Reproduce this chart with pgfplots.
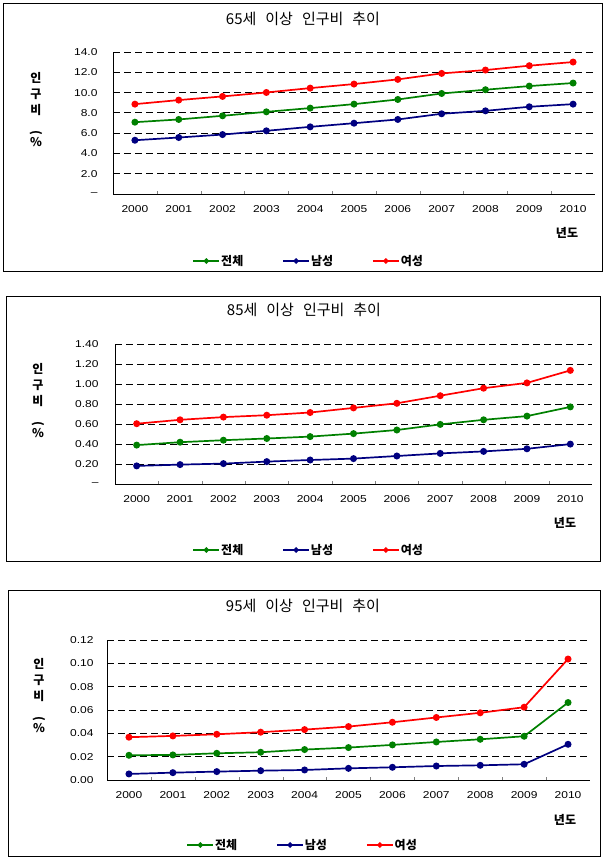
\documentclass[border=0pt]{standalone}
\usepackage{fontspec}
\setmainfont{Noto Sans CJK KR}
\newfontfamily\numfont[FakeStretch=1.2]{Liberation Sans}
\usepackage{pgfplots}
\pgfplotsset{compat=1.18}

\definecolor{cgreen}{RGB}{0,128,0}
\definecolor{cnavy}{RGB}{0,0,128}
\definecolor{cred}{RGB}{255,0,0}

\pgfplotsset{
  panel/.style={
    scale only axis,
    anchor=south west,
    clip=false,
    xmin=-0.5, xmax=10.5,
    xtick={0,...,10},
    xticklabels={2000,2001,2002,2003,2004,2005,2006,2007,2008,2009,2010},
    extra x ticks={0.5,1.5,...,9.5},
    extra x tick labels={},
    extra x tick style={major tick length=3pt, tick align=inside, grid=none},
    major tick length=0pt,
    axis x line*=bottom, axis y line*=left,
    x axis line style={-, line width=0.8pt},
    y axis line style={-, line width=0.8pt},
    ymajorgrids,
    grid style={black, line width=0.8pt, dash pattern=on 7pt off 4pt},
    tick label style={font=\numfont\fontsize{10}{12}\selectfont},
    xticklabel style={yshift=-8pt},
    every axis plot/.append style={line width=1.7pt, mark=*, mark size=2.6pt},
    legend image code/.code={\draw[mark repeat=2, mark phase=2, #1, mark size=1.8pt]
      plot coordinates {(0pt,0pt) (13pt,0pt) (26pt,0pt)};},
    legend style={draw=none, fill=none, legend columns=3, anchor=center,
      font=\bfseries\fontsize{12}{14}\selectfont,
      nodes={inner sep=1pt},
      /tikz/every even column/.append style={column sep=38pt}},
  },
}
\tikzset{
  ylab/.style={align=center, font=\bfseries\fontsize{12}{16}\selectfont},
  ttl/.style={font=\fontsize{15}{17}\selectfont},
  yr/.style={font=\bfseries\fontsize{12}{14}\selectfont},
}

\newcommand{\ylabtext}{인\\구\\비\\\rotatebox{-90}{(}\\\%}

\begin{document}
\begin{tikzpicture}
\useasboundingbox (0,0) rectangle (603pt,-859pt);

% ---------- panel 1: 65+ ----------
\draw[line width=0.9pt] (3pt,-3pt) rectangle (602pt,-271pt);
\node[ttl] at (303pt,-19pt) {65세\hspace{0.6em}이상\hspace{0.6em}인구비\hspace{0.6em}추이};
\node[ylab] at (36pt,-110pt) {\ylabtext};
\node[yr] at (567pt,-233pt) {년도};
\begin{axis}[panel,
  at={(113pt,-194pt)}, width=482pt, height=142pt,
  ymin=0, ymax=14, ytick={0,2,...,14},
  yticklabels={–,2.0,4.0,6.0,8.0,10.0,12.0,14.0},
  yticklabel style={xshift=-12pt},
  legend style={at={(0.405,-0.472)}},
]
\addplot[color=cgreen] coordinates {(0,7.08) (1,7.35) (2,7.71) (3,8.10) (4,8.47) (5,8.86) (6,9.32) (7,9.91) (8,10.28) (9,10.64) (10,10.94)};
\addlegendentry{전체}
\addplot[color=cnavy] coordinates {(0,5.30) (1,5.57) (2,5.86) (3,6.23) (4,6.62) (5,6.98) (6,7.35) (7,7.91) (8,8.20) (9,8.60) (10,8.86)};
\addlegendentry{남성}
\addplot[color=cred] coordinates {(0,8.86) (1,9.26) (2,9.62) (3,10.01) (4,10.44) (5,10.84) (6,11.30) (7,11.89) (8,12.22) (9,12.65) (10,13.01)};
\addlegendentry{여성}
\end{axis}

% ---------- panel 2: 85+ ----------
\draw[line width=0.9pt] (6.5pt,-296.5pt) rectangle (600.5pt,-561pt);
\node[ttl] at (304pt,-310pt) {85세\hspace{0.6em}이상\hspace{0.6em}인구비\hspace{0.6em}추이};
\node[ylab] at (38pt,-401pt) {\ylabtext};
\node[yr] at (565pt,-523pt) {년도};
\begin{axis}[panel,
  at={(115pt,-484pt)}, width=477pt, height=140pt,
  ymin=0, ymax=1.4, ytick={0,0.2,...,1.4},
  yticklabels={–,0.20,0.40,0.60,0.80,1.00,1.20,1.40},
  yticklabel style={xshift=-13pt},
  legend style={at={(0.405,-0.471)}},
]
\addplot[color=cgreen] coordinates {(0,0.389) (1,0.418) (2,0.438) (3,0.455) (4,0.474) (5,0.504) (6,0.540) (7,0.596) (8,0.642) (9,0.679) (10,0.771)};
\addlegendentry{전체}
\addplot[color=cnavy] coordinates {(0,0.181) (1,0.194) (2,0.204) (3,0.224) (4,0.240) (5,0.254) (6,0.280) (7,0.306) (8,0.326) (9,0.352) (10,0.399)};
\addlegendentry{남성}
\addplot[color=cred] coordinates {(0,0.603) (1,0.642) (2,0.669) (3,0.688) (4,0.715) (5,0.761) (6,0.807) (7,0.883) (8,0.958) (9,1.011) (10,1.136)};
\addlegendentry{여성}
\end{axis}

% ---------- panel 3: 95+ ----------
\draw[line width=0.9pt] (8pt,-590.5pt) rectangle (600pt,-856.5pt);
\node[ttl] at (303pt,-606pt) {95세\hspace{0.6em}이상\hspace{0.6em}인구비\hspace{0.6em}추이};
\node[ylab] at (39pt,-696pt) {\ylabtext};
\node[yr] at (565pt,-820pt) {년도};
\begin{axis}[panel,
  at={(107pt,-780pt)}, width=483pt, height=140pt,
  ymin=0, ymax=0.12, ytick={0,0.02,...,0.12},
  yticklabels={0.00,0.02,0.04,0.06,0.08,0.10,0.12},
  yticklabel style={xshift=-10pt},
  legend style={at={(0.404,-0.464)}},
]
\addplot[color=cgreen] coordinates {(0,0.0212) (1,0.0215) (2,0.0229) (3,0.0238) (4,0.0261) (5,0.0278) (6,0.0301) (7,0.0326) (8,0.0349) (9,0.0375) (10,0.0664)};
\addlegendentry{전체}
\addplot[color=cnavy] coordinates {(0,0.0052) (1,0.0063) (2,0.0072) (3,0.0080) (4,0.0086) (5,0.0100) (6,0.0109) (7,0.0120) (8,0.0126) (9,0.0135) (10,0.0306)};
\addlegendentry{남성}
\addplot[color=cred] coordinates {(0,0.0367) (1,0.0378) (2,0.0392) (3,0.0410) (4,0.0432) (5,0.0458) (6,0.0495) (7,0.0536) (8,0.0576) (9,0.0624) (10,0.1037)};
\addlegendentry{여성}
\end{axis}
\end{tikzpicture}
\end{document}
